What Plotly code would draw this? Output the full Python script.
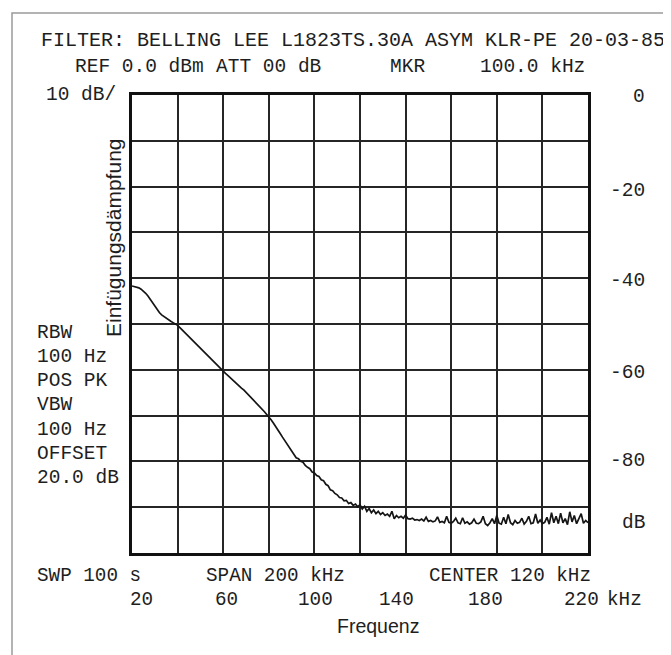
import plotly.graph_objects as go

# ---------------- data ----------------
freqs_khz = list(range(20, 221))
level_db = [
    -41.7, -41.8, -41.9, -42.1, -42.4, -42.8, -43.3, -43.9, -44.6, -45.4,   # 20-29
    -46.2, -46.9, -47.5, -48.0, -48.4, -48.8, -49.1, -49.4, -49.7, -50.0,   # 30-39
    -50.3, -50.8, -51.3, -51.8, -52.3, -52.9, -53.5, -54.0, -54.5, -55.0,   # 40-49
    -55.5, -56.0, -56.5, -57.0, -57.4, -57.9, -58.4, -58.9, -59.4, -59.9,   # 50-59
    -60.3, -60.8, -61.2, -61.7, -62.1, -62.6, -63.0, -63.5, -64.0, -64.4,   # 60-69
    -64.9, -65.4, -65.9, -66.4, -66.9, -67.5, -68.0, -68.6, -69.1, -69.7,   # 70-79
    -70.2, -70.9, -71.6, -72.3, -73.1, -73.9, -74.7, -75.5, -76.3, -77.0,   # 80-89
    -77.8, -78.6, -79.2, -79.4, -80.0, -80.2, -80.9, -81.3, -81.6, -82.3,   # 90-99
    -82.5, -83.1, -83.3, -84.0, -84.2, -85.0, -85.3, -86.2, -86.4, -87.0,   # 100-109
    -87.3, -87.9, -88.0, -88.6, -88.5, -89.2, -89.0, -89.6, -89.3, -89.9,   # 110-119
    -89.5, -90.4, -89.8, -90.9, -90.3, -91.2, -90.6, -91.4, -90.9, -91.6,   # 120-129
    -91.2, -91.8, -91.5, -92.0, -90.9, -92.5, -91.8, -92.3, -92.0, -92.4,   # 130-139
    -91.7, -92.5, -92.6, -92.4, -92.8, -92.7, -92.9, -92.6, -93.0, -92.2,   # 140-149
    -93.1, -92.9, -93.2, -93.0, -92.1, -93.3, -93.1, -93.4, -92.0, -93.3,   # 150-159
    -93.5, -93.1, -92.4, -93.4, -93.6, -92.3, -93.5, -93.2, -93.7, -93.4,   # 160-169
    -92.6, -93.5, -93.6, -93.2, -92.0, -93.6, -94.0, -93.4, -92.5, -93.6,   # 170-179
    -91.8, -93.5, -93.7, -92.2, -93.6, -91.6, -93.4, -93.8, -92.9, -93.5,   # 180-189
    -93.3, -92.4, -93.7, -93.1, -92.0, -93.6, -93.4, -91.5, -93.5, -92.8,   # 190-199
    -93.6, -93.3, -92.2, -93.7, -91.2, -93.4, -92.0, -93.6, -91.3, -93.4,   # 200-209
    -92.5, -93.8, -91.0, -93.2, -91.8, -93.6, -92.6, -91.4, -93.5, -92.9,   # 210-219
    -93.4,                                                                   # 220
]

title_text = "FILTER: BELLING LEE L1823TS.30A ASYM KLR-PE 20-03-85"
header_parts = ["REF 0.0 dBm", "ATT 00 dB", "MKR", "100.0 kHz"]
scale_text = "10 dB/"
right_labels = ["0", "-20", "-40", "-60", "-80", "dB"]
left_block = ["RBW", "100 Hz", "POS PK", "VBW", "100 Hz", "OFFSET", "20.0 dB"]
footer_parts = ["SWP 100 s", "SPAN 200 kHz", "CENTER 120 kHz"]
x_labels = ["20", "60", "100", "140", "180", "220", "kHz"]
y_title = "Einfügungsdämpfung"
x_title = "Frequenz"

# ---------------- layout geometry (pixels) ----------------
W, H = 671, 655
L, R, T, B = 124, 580, 87, 545


def px(x):
    return (x - L) / (R - L)


def py(y):
    return (B - y) / (B - T)


MONO = "Liberation Mono"
INK = "#1e1e1e"

fig = go.Figure()
fig.add_trace(go.Scatter(
    x=freqs_khz, y=level_db, mode="lines",
    line=dict(color="#151515", width=1.7), hoverinfo="skip", showlegend=False,
))

ann = []


def text(s, x, y, anchor="left", size=19.5, font=MONO, angle=0):
    ann.append(dict(
        text=s, x=px(x), y=py(y), xref="paper", yref="paper",
        xanchor=anchor, yanchor="middle", showarrow=False, textangle=angle,
        font=dict(family=font, size=size, color=INK),
    ))


text(title_text, 31, 32, size=20)
for s, x in zip(header_parts, [65, 206, 380, 470]):
    text(s, x, 59)
text(scale_text, 110, 87, anchor="right")

for s, y in zip(right_labels, [89, 183, 273, 365, 453, 515]):
    text(s, 639, y, anchor="right")

for s, y in zip(left_block, [325, 349, 373, 397, 422, 446, 470]):
    text(s, 27, y)

for s, x in zip(footer_parts, [27, 196, 419]):
    text(s, x, 568, size=19.3)
for s, x in zip(x_labels, [133, 218, 307, 388, 477, 573, 616]):
    text(s, x, 592, anchor="center", size=19.3)

text(x_title, 370, 618, anchor="center", size=19.5, font="Liberation Sans")
text(y_title, 105, 230, anchor="center", size=21, font="Liberation Sans", angle=-90)

fig.update_layout(
    width=W, height=H,
    margin=dict(l=L, r=W - R, t=T, b=H - B, pad=0),
    paper_bgcolor="white", plot_bgcolor="white",
    annotations=ann,
    shapes=[dict(type="rect", xref="paper", yref="paper",
                 x0=px(4), x1=px(667), y0=py(5), y1=py(652),
                 line=dict(color="#9a9a9a", width=1.5), layer="below")],
    xaxis=dict(range=[20, 220], dtick=20, tick0=20, showgrid=True,
               gridcolor="#262626", gridwidth=2, zeroline=False,
               showline=True, linecolor="#111", linewidth=2.5, mirror=True,
               showticklabels=False, ticks=""),
    yaxis=dict(range=[-100, 0], dtick=10, tick0=0, showgrid=True,
               gridcolor="#262626", gridwidth=2, zeroline=False,
               showline=True, linecolor="#111", linewidth=2.5, mirror=True,
               showticklabels=False, ticks=""),
)

fig.write_html("out.html")
